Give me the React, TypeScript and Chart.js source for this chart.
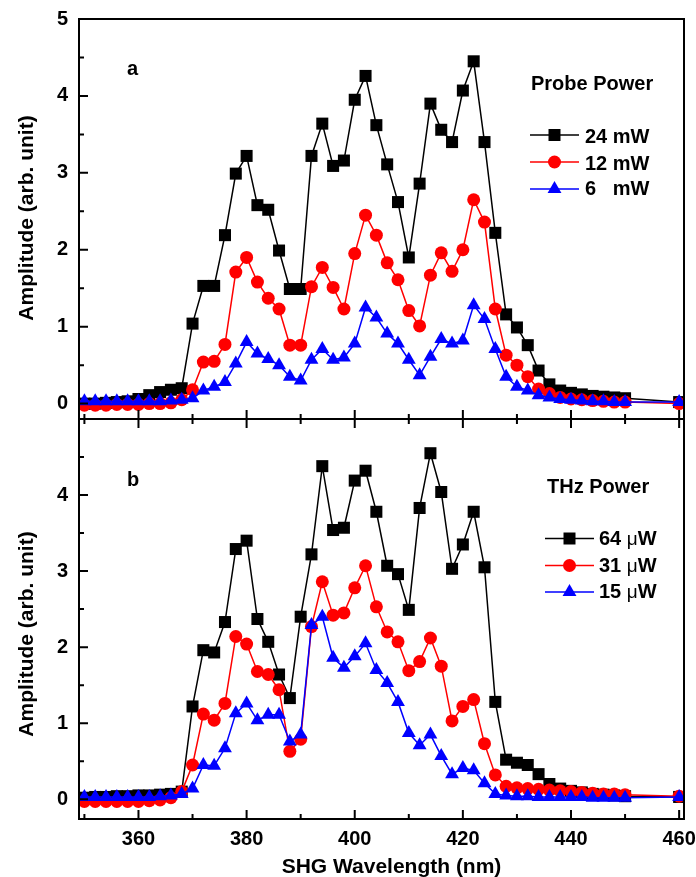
import React, { useEffect, useRef } from 'react';
import { Chart, registerables } from 'chart.js';

Chart.register(...registerables);

// ---------- data ----------
const wavelength = [
  350, 352, 354, 356, 358, 360, 362, 364, 366, 368,
  370, 372, 374, 376, 378, 380, 382, 384, 386, 388,
  390, 392, 394, 396, 398, 400, 402, 404, 406, 408,
  410, 412, 414, 416, 418, 420, 422, 424, 426, 428,
  430, 432, 434, 436, 438, 440, 442, 444, 446, 448,
  450, 460,
];

// panel a: probe power
const probe24mW = [
  0.0, 0.0, 0.01, 0.02, 0.03, 0.06, 0.11, 0.15, 0.18, 0.2,
  1.04, 1.53, 1.53, 2.19, 2.99, 3.22, 2.58, 2.52, 1.99, 1.49,
  1.49, 3.22, 3.64, 3.09, 3.16, 3.95, 4.26, 3.62, 3.11, 2.62,
  1.9, 2.86, 3.9, 3.56, 3.4, 4.07, 4.45, 3.4, 2.22, 1.16,
  0.99, 0.76, 0.43, 0.25, 0.17, 0.14, 0.12, 0.1, 0.09, 0.08,
  0.07, 0.02,
];
const probe12mW = [
  -0.02, -0.02, -0.02, -0.01, -0.01, -0.01, 0.0, 0.0, 0.01, 0.05,
  0.18, 0.54, 0.55, 0.77, 1.71, 1.9, 1.58, 1.37, 1.23, 0.76,
  0.76, 1.52, 1.77, 1.51, 1.23, 1.95, 2.45, 2.19, 1.83, 1.61,
  1.21, 1.01, 1.67, 1.96, 1.72, 2.0, 2.65, 2.36, 1.23, 0.63,
  0.5, 0.35, 0.19, 0.13, 0.08, 0.06, 0.05, 0.04, 0.03, 0.02,
  0.02, 0.0,
];
const probe6mW = [
  0.03, 0.03, 0.03, 0.03, 0.03, 0.03, 0.03, 0.03, 0.04, 0.05,
  0.07, 0.17, 0.22, 0.28, 0.52, 0.8, 0.65, 0.58, 0.5, 0.35,
  0.3, 0.57, 0.71, 0.57, 0.6, 0.78, 1.25, 1.12, 0.91, 0.78,
  0.57, 0.37, 0.61, 0.84, 0.78, 0.82, 1.28, 1.1, 0.71, 0.35,
  0.22, 0.17, 0.11, 0.08, 0.06, 0.05, 0.04, 0.03, 0.03, 0.02,
  0.02, 0.02,
];

// panel b: THz power
const thz64uW = [
  0.02, 0.03, 0.03, 0.04, 0.04, 0.05, 0.05, 0.06, 0.07, 0.1,
  1.22, 1.96, 1.93, 2.33, 3.29, 3.4, 2.37, 2.07, 1.64, 1.33,
  2.4, 3.22, 4.38, 3.54, 3.57, 4.19, 4.32, 3.78, 3.07, 2.96,
  2.49, 3.83, 4.55, 4.04, 3.03, 3.35, 3.78, 3.05, 1.28, 0.52,
  0.48, 0.45, 0.33, 0.2, 0.14, 0.11, 0.09, 0.07, 0.06, 0.05,
  0.04, 0.03,
];
const thz31uW = [
  -0.03, -0.03, -0.03, -0.03, -0.03, -0.03, -0.02, -0.01, 0.02, 0.1,
  0.45, 1.12, 1.04, 1.26, 2.14, 2.04, 1.68, 1.64, 1.44, 0.63,
  0.79, 2.27, 2.86, 2.42, 2.45, 2.78, 3.07, 2.53, 2.2, 2.07,
  1.69, 1.81, 2.12, 1.75, 1.03, 1.22, 1.31, 0.73, 0.32, 0.17,
  0.15, 0.14, 0.13, 0.12, 0.11, 0.1, 0.09, 0.08, 0.07, 0.07,
  0.06, 0.04,
];
const thz15uW = [
  0.03, 0.03, 0.03, 0.03, 0.03, 0.03, 0.03, 0.04, 0.05, 0.07,
  0.14, 0.45, 0.44, 0.67, 1.13, 1.26, 1.04, 1.11, 1.11, 0.76,
  0.85, 2.29, 2.4, 1.86, 1.73, 1.88, 2.05, 1.7, 1.53, 1.28,
  0.87, 0.71, 0.85, 0.57, 0.33, 0.41, 0.38, 0.21, 0.07, 0.05,
  0.04, 0.04, 0.03, 0.03, 0.03, 0.03, 0.03, 0.02, 0.02, 0.02,
  0.02, 0.03,
];

const seriesLabelsA = ['24 mW', '12 mW', '6   mW'];
const seriesLabelsB = ['64 μW', '31 μW', '15 μW'];

const xTickLabels = [360, 380, 400, 420, 440, 460];
const xMinorTicks = [350, 370, 390, 410, 430, 450];
const yTickLabelsA = [0, 1, 2, 3, 4, 5];
const yTickLabelsB = [0, 1, 2, 3, 4];
const yMinorTicks = [0.5, 1.5, 2.5, 3.5, 4.5];

// ---------- styling ----------
const FONT = "'Liberation Sans', Arial, Helvetica, sans-serif";
const COLORS = ['#000000', '#ff0000', '#0000ff'];
const STYLES = ['rect', 'circle', 'triangle'];
const RADII = [8.5, 6.5, 8];

function drawMarker(ctx: CanvasRenderingContext2D, style: string, x: number, y: number, color: string) {
  ctx.fillStyle = color;
  ctx.beginPath();
  if (style === 'rect') {
    const s = 6;
    ctx.rect(x - s, y - s, 2 * s, 2 * s);
  } else if (style === 'circle') {
    ctx.arc(x, y, 6.5, 0, Math.PI * 2);
  } else {
    const r = 8;
    for (let i = 0; i < 3; i++) {
      const ang = (i * 2 * Math.PI) / 3;
      const px = x + Math.sin(ang) * r;
      const py = y - Math.cos(ang) * r;
      if (i === 0) ctx.moveTo(px, py);
      else ctx.lineTo(px, py);
    }
    ctx.closePath();
  }
  ctx.fill();
}

function drawRichText(ctx: CanvasRenderingContext2D, text: string, x: number, y: number) {
  // μ drawn in regular weight, the rest bold
  const parts = text.split(/(μ)/);
  let cx = x;
  for (const p of parts) {
    if (!p) continue;
    ctx.font = p === 'μ' ? `normal 19px ${FONT}` : `bold 20px ${FONT}`;
    ctx.fillText(p, cx, y);
    cx += ctx.measureText(p).width;
  }
}

const panelPlugin = {
  id: 'panel',
  afterDraw(chart: any, _args: any, o: any) {
    const { ctx, chartArea: a } = chart;
    const xs = chart.scales.x;
    const ys = chart.scales.y;
    ctx.save();
    ctx.strokeStyle = '#000';
    ctx.lineWidth = 2;
    ctx.strokeRect(a.left, a.top, a.right - a.left, a.bottom - a.top);
    ctx.beginPath();
    const yT = (v: number, len: number) => {
      const p = ys.getPixelForValue(v);
      ctx.moveTo(a.left, p);
      ctx.lineTo(a.left + len, p);
    };
    o.yMajor.forEach((v: number) => yT(v, 9));
    yMinorTicks.forEach((v: number) => yT(v, 5));
    const xT = (v: number, len: number) => {
      const p = xs.getPixelForValue(v);
      if (o.xTop) {
        ctx.moveTo(p, a.top);
        ctx.lineTo(p, a.top + len);
      }
      if (o.xBottom) {
        ctx.moveTo(p, a.bottom);
        ctx.lineTo(p, a.bottom - len);
      }
    };
    xTickLabels.forEach((v) => xT(v, 9));
    xMinorTicks.forEach((v) => xT(v, 5));
    ctx.stroke();

    ctx.fillStyle = '#000';
    ctx.textBaseline = 'alphabetic';
    ctx.textAlign = 'left';
    // panel letter
    ctx.font = `bold 20px ${FONT}`;
    ctx.fillText(o.letter, o.letterX, o.letterY);
    // legend title
    ctx.fillText(o.legendTitle, o.legendTitleX, o.legendTitleY);
    // legend entries
    o.labels.forEach((lab: string, i: number) => {
      const cy = o.rowY[i];
      ctx.strokeStyle = COLORS[i];
      ctx.lineWidth = 1.5;
      ctx.beginPath();
      ctx.moveTo(o.lineX0, cy);
      ctx.lineTo(o.lineX1, cy);
      ctx.stroke();
      drawMarker(ctx, STYLES[i], (o.lineX0 + o.lineX1) / 2, cy, COLORS[i]);
      ctx.fillStyle = '#000';
      drawRichText(ctx, lab, o.textX, o.rowBase[i]);
    });
    // y title
    ctx.save();
    ctx.font = `bold 21px ${FONT}`;
    ctx.textAlign = 'center';
    ctx.translate(33, o.yTitleY);
    ctx.rotate(-Math.PI / 2);
    ctx.fillText('Amplitude (arb. unit)', 0, 0);
    ctx.restore();
    // x title
    if (o.xTitle) {
      ctx.font = `bold 21px ${FONT}`;
      ctx.textAlign = 'center';
      ctx.fillText(o.xTitle, o.xTitleX, o.xTitleY);
    }
    ctx.restore();
  },
};

function makeDatasets(series: number[][], labels: string[]) {
  return series.map((vals, i) => ({
    label: labels[i],
    data: wavelength.map((w, j) => ({ x: w, y: vals[j] })),
    borderColor: COLORS[i],
    backgroundColor: COLORS[i],
    pointBackgroundColor: COLORS[i],
    pointBorderColor: COLORS[i],
    pointBorderWidth: 0,
    pointStyle: STYLES[i],
    pointRadius: RADII[i],
    borderWidth: 1.5,
    tension: 0,
    order: 3 - i,
  }));
}

function makeConfig(series: number[][], labels: string[], yTicks: number[], yMin: number, bottomPanel: boolean, panelOpts: any): any {
  const tickFont = { family: FONT, size: 20, weight: 'bold' as const };
  return {
    type: 'line',
    data: { datasets: makeDatasets(series, labels) },
    plugins: [panelPlugin],
    options: {
      responsive: false,
      animation: false,
      events: [],
      layout: { autoPadding: false, padding: { top: bottomPanel ? 0 : 19, right: 12, left: 0, bottom: 0 } },
      scales: {
        x: {
          type: 'linear',
          min: 349,
          max: 460.9,
          display: bottomPanel,
          grid: { display: false, drawTicks: false },
          border: { display: false },
          ticks: { font: tickFont, color: '#000', padding: 8, maxRotation: 0 },
          afterBuildTicks: (s: any) => {
            s.ticks = xTickLabels.map((v) => ({ value: v }));
          },
          afterFit: (s: any) => {
            s.height = bottomPanel ? 58 : 0;
            s.paddingLeft = 0;
            s.paddingRight = 0;
          },
        },
        y: {
          type: 'linear',
          min: yMin,
          max: 5,
          grid: { display: false, drawTicks: false },
          border: { display: false },
          ticks: { font: tickFont, color: '#000', padding: 11 },
          afterBuildTicks: (s: any) => {
            s.ticks = yTicks.map((v) => ({ value: v }));
          },
          afterFit: (s: any) => {
            s.width = 79;
            s.paddingTop = 0;
            s.paddingBottom = 0;
          },
        },
      },
      plugins: {
        legend: { display: false },
        tooltip: { enabled: false },
        panel: panelOpts,
      },
    },
  };
}

export default function App() {
  const topRef = useRef<HTMLCanvasElement>(null);
  const botRef = useRef<HTMLCanvasElement>(null);

  useEffect(() => {
    const top = new Chart(
      topRef.current as HTMLCanvasElement,
      makeConfig([probe24mW, probe12mW, probe6mW], seriesLabelsA, yTickLabelsA, -0.2, false, {
        yMajor: yTickLabelsA,
        xTop: false,
        xBottom: true,
        letter: 'a',
        letterX: 127,
        letterY: 75,
        legendTitle: 'Probe Power',
        legendTitleX: 531,
        legendTitleY: 90,
        labels: seriesLabelsA,
        lineX0: 530,
        lineX1: 579,
        textX: 585,
        rowY: [135, 162, 189],
        rowBase: [142.5, 169.5, 195],
        yTitleY: 218,
        xTitle: '',
      })
    );
    const bot = new Chart(
      botRef.current as HTMLCanvasElement,
      makeConfig([thz64uW, thz31uW, thz15uW], seriesLabelsB, yTickLabelsB, -0.26, true, {
        yMajor: [...yTickLabelsB, 5],
        xTop: true,
        xBottom: true,
        letter: 'b',
        letterX: 127,
        letterY: 67,
        legendTitle: 'THz Power',
        legendTitleX: 547,
        legendTitleY: 73.5,
        labels: seriesLabelsB,
        lineX0: 545,
        lineX1: 594,
        textX: 599,
        rowY: [119.5, 146.5, 173],
        rowBase: [126, 152.7, 179.3],
        yTitleY: 215,
        xTitle: 'SHG Wavelength (nm)',
        xTitleX: 391.5,
        xTitleY: 454,
      })
    );
    return () => {
      top.destroy();
      bot.destroy();
    };
  }, []);

  return (
    <div style={{ position: 'fixed', left: 0, top: 0, width: 696, height: 877, background: '#fff' }}>
      <canvas ref={topRef} width={696} height={419} style={{ position: 'absolute', left: 0, top: 0, width: 696, height: 419 }} />
      <canvas ref={botRef} width={696} height={458} style={{ position: 'absolute', left: 0, top: 419, width: 696, height: 458 }} />
    </div>
  );
}
